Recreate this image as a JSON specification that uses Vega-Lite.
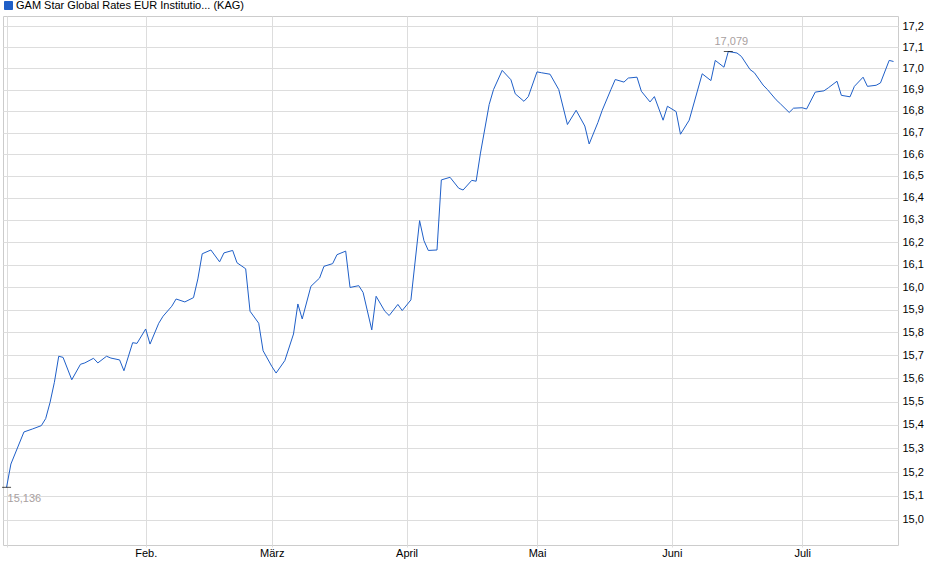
{
  "$schema": "https://vega.github.io/schema/vega-lite/v6.json",
  "width": 895,
  "height": 529,
  "autosize": "none",
  "padding": {"left": 3, "top": 16, "right": 42, "bottom": 34},
  "background": "white",
  "config": {
    "view": {"stroke": "#cccccc"},
    "locale": {"number": {"decimal": ",", "thousands": ".", "grouping": [3], "currency": ["", " €"]}},
    "axis": {
      "labelFont": "Liberation Sans",
      "labelFontSize": 11,
      "labelColor": "#000000",
      "gridColor": "#dddddd",
      "gridWidth": 1,
      "domain": false,
      "title": null
    },
    "legend": {"labelFont": "Liberation Sans"}
  },
  "data": {
    "values": [
      {"date": "2023-12-31", "value": 15.136},
      {"date": "2024-01-01", "value": 15.234},
      {"date": "2024-01-04", "value": 15.370},
      {"date": "2024-01-06", "value": 15.383},
      {"date": "2024-01-08", "value": 15.397},
      {"date": "2024-01-09", "value": 15.427},
      {"date": "2024-01-10", "value": 15.496},
      {"date": "2024-01-11", "value": 15.583},
      {"date": "2024-01-12", "value": 15.696},
      {"date": "2024-01-13", "value": 15.691},
      {"date": "2024-01-15", "value": 15.594},
      {"date": "2024-01-17", "value": 15.661},
      {"date": "2024-01-18", "value": 15.667},
      {"date": "2024-01-20", "value": 15.687},
      {"date": "2024-01-21", "value": 15.667},
      {"date": "2024-01-23", "value": 15.696},
      {"date": "2024-01-24", "value": 15.688},
      {"date": "2024-01-26", "value": 15.680},
      {"date": "2024-01-27", "value": 15.633},
      {"date": "2024-01-29", "value": 15.755},
      {"date": "2024-01-30", "value": 15.752},
      {"date": "2024-02-01", "value": 15.815},
      {"date": "2024-02-02", "value": 15.749},
      {"date": "2024-02-04", "value": 15.840},
      {"date": "2024-02-05", "value": 15.871},
      {"date": "2024-02-07", "value": 15.915},
      {"date": "2024-02-08", "value": 15.947},
      {"date": "2024-02-10", "value": 15.934},
      {"date": "2024-02-12", "value": 15.953},
      {"date": "2024-02-13", "value": 16.036},
      {"date": "2024-02-14", "value": 16.148},
      {"date": "2024-02-16", "value": 16.165},
      {"date": "2024-02-18", "value": 16.112},
      {"date": "2024-02-19", "value": 16.152},
      {"date": "2024-02-21", "value": 16.163},
      {"date": "2024-02-22", "value": 16.108},
      {"date": "2024-02-24", "value": 16.081},
      {"date": "2024-02-25", "value": 15.893},
      {"date": "2024-02-27", "value": 15.840},
      {"date": "2024-02-28", "value": 15.720},
      {"date": "2024-03-01", "value": 15.652},
      {"date": "2024-03-02", "value": 15.623},
      {"date": "2024-03-04", "value": 15.677},
      {"date": "2024-03-06", "value": 15.793},
      {"date": "2024-03-07", "value": 15.925},
      {"date": "2024-03-08", "value": 15.859},
      {"date": "2024-03-10", "value": 16.003},
      {"date": "2024-03-12", "value": 16.040},
      {"date": "2024-03-13", "value": 16.092},
      {"date": "2024-03-15", "value": 16.104},
      {"date": "2024-03-16", "value": 16.144},
      {"date": "2024-03-18", "value": 16.160},
      {"date": "2024-03-19", "value": 15.998},
      {"date": "2024-03-21", "value": 16.006},
      {"date": "2024-03-22", "value": 15.976},
      {"date": "2024-03-24", "value": 15.811},
      {"date": "2024-03-25", "value": 15.959},
      {"date": "2024-03-27", "value": 15.893},
      {"date": "2024-03-28", "value": 15.874},
      {"date": "2024-03-30", "value": 15.923},
      {"date": "2024-03-31", "value": 15.896},
      {"date": "2024-04-02", "value": 15.943},
      {"date": "2024-04-04", "value": 16.297},
      {"date": "2024-04-05", "value": 16.207},
      {"date": "2024-04-06", "value": 16.163},
      {"date": "2024-04-08", "value": 16.165},
      {"date": "2024-04-09", "value": 16.482},
      {"date": "2024-04-11", "value": 16.494},
      {"date": "2024-04-13", "value": 16.444},
      {"date": "2024-04-14", "value": 16.436},
      {"date": "2024-04-16", "value": 16.480},
      {"date": "2024-04-17", "value": 16.476},
      {"date": "2024-04-18", "value": 16.605},
      {"date": "2024-04-20", "value": 16.830},
      {"date": "2024-04-21", "value": 16.900},
      {"date": "2024-04-23", "value": 16.990},
      {"date": "2024-04-25", "value": 16.946},
      {"date": "2024-04-26", "value": 16.880},
      {"date": "2024-04-28", "value": 16.845},
      {"date": "2024-04-29", "value": 16.867},
      {"date": "2024-05-01", "value": 16.983},
      {"date": "2024-05-02", "value": 16.979},
      {"date": "2024-05-04", "value": 16.972},
      {"date": "2024-05-06", "value": 16.900},
      {"date": "2024-05-08", "value": 16.737},
      {"date": "2024-05-10", "value": 16.803},
      {"date": "2024-05-12", "value": 16.730},
      {"date": "2024-05-13", "value": 16.647},
      {"date": "2024-05-15", "value": 16.746},
      {"date": "2024-05-16", "value": 16.803},
      {"date": "2024-05-18", "value": 16.900},
      {"date": "2024-05-19", "value": 16.947},
      {"date": "2024-05-21", "value": 16.935},
      {"date": "2024-05-22", "value": 16.954},
      {"date": "2024-05-24", "value": 16.958},
      {"date": "2024-05-25", "value": 16.892},
      {"date": "2024-05-27", "value": 16.842},
      {"date": "2024-05-28", "value": 16.867},
      {"date": "2024-05-30", "value": 16.757},
      {"date": "2024-05-31", "value": 16.822},
      {"date": "2024-06-02", "value": 16.797},
      {"date": "2024-06-03", "value": 16.692},
      {"date": "2024-06-05", "value": 16.757},
      {"date": "2024-06-08", "value": 16.974},
      {"date": "2024-06-10", "value": 16.942},
      {"date": "2024-06-11", "value": 17.037},
      {"date": "2024-06-13", "value": 17.005},
      {"date": "2024-06-14", "value": 17.079},
      {"date": "2024-06-16", "value": 17.072},
      {"date": "2024-06-17", "value": 17.056},
      {"date": "2024-06-19", "value": 16.994},
      {"date": "2024-06-20", "value": 16.979},
      {"date": "2024-06-22", "value": 16.921},
      {"date": "2024-06-23", "value": 16.900},
      {"date": "2024-06-25", "value": 16.852},
      {"date": "2024-06-26", "value": 16.833},
      {"date": "2024-06-28", "value": 16.793},
      {"date": "2024-06-29", "value": 16.813},
      {"date": "2024-07-01", "value": 16.815},
      {"date": "2024-07-02", "value": 16.809},
      {"date": "2024-07-04", "value": 16.888},
      {"date": "2024-07-06", "value": 16.894},
      {"date": "2024-07-07", "value": 16.908},
      {"date": "2024-07-09", "value": 16.939},
      {"date": "2024-07-10", "value": 16.873},
      {"date": "2024-07-12", "value": 16.866},
      {"date": "2024-07-13", "value": 16.915},
      {"date": "2024-07-15", "value": 16.958},
      {"date": "2024-07-16", "value": 16.915},
      {"date": "2024-07-18", "value": 16.920},
      {"date": "2024-07-19", "value": 16.931},
      {"date": "2024-07-21", "value": 17.037},
      {"date": "2024-07-22", "value": 17.032}
    ]
  },
  "encoding": {
    "x": {
      "field": "date",
      "type": "temporal",
      "scale": {
        "type": "utc",
        "domain": [
          {"year": 2023, "month": 12, "date": 30, "hours": 4, "minutes": 23, "utc": true},
          {"year": 2024, "month": 7, "date": 23, "hours": 0, "minutes": 43, "utc": true}
        ]
      },
      "axis": {
        "orient": "bottom",
        "grid": true,
        "ticks": true,
        "tickSize": 2,
        "tickColor": "#dddddd",
        "labelPadding": 0,
        "labelAngle": 0,
        "labelAlign": "center",
        "labelBaseline": "top",
        "values": [
          {"year": 2023, "month": 12, "date": 31, "utc": true},
          {"year": 2024, "month": 2, "date": 1, "utc": true},
          {"year": 2024, "month": 3, "date": 1, "utc": true},
          {"year": 2024, "month": 4, "date": 1, "utc": true},
          {"year": 2024, "month": 5, "date": 1, "utc": true},
          {"year": 2024, "month": 6, "date": 1, "utc": true},
          {"year": 2024, "month": 7, "date": 1, "utc": true}
        ],
        "labelExpr": "utcmonth(datum.value) == 11 ? '' : ['Jan.', 'Feb.', 'März', 'April', 'Mai', 'Juni', 'Juli', 'Aug.', 'Sep.', 'Okt.', 'Nov.', 'Dez.'][utcmonth(datum.value)]"
      }
    },
    "y": {
      "field": "value",
      "type": "quantitative",
      "scale": {"type": "log", "domain": [14.896, 17.248], "nice": false, "zero": false},
      "axis": {
        "orient": "right",
        "grid": true,
        "ticks": false,
        "labelPadding": 4,
        "labelBaseline": "middle",
        "values": [15.0, 15.1, 15.2, 15.3, 15.4, 15.5, 15.6, 15.7, 15.8, 15.9, 16.0, 16.1, 16.2, 16.3, 16.4, 16.5, 16.6, 16.7, 16.8, 16.9, 17.0, 17.1, 17.2],
        "format": ".1f"
      }
    }
  },
  "layer": [
    {
      "mark": {"type": "line", "strokeWidth": 1, "interpolate": "linear"},
      "encoding": {
        "color": {
          "datum": "GAM Star Global Rates EUR Institutio... (KAG)",
          "scale": {"range": ["#1f5fc8"]},
          "legend": {
            "title": null,
            "orient": "none",
            "legendX": 0,
            "legendY": -16,
            "symbolType": "square",
            "symbolSize": 64,
            "labelFontSize": 11,
            "labelColor": "#000000",
            "labelLimit": 0,
            "labelOffset": 2,
            "padding": 0,
            "encode": {
              "symbols": {
                "update": {
                  "fill": {"value": "#1f5fc8"},
                  "stroke": {"value": "#1a2a60"},
                  "strokeWidth": {"value": 1},
                  "opacity": {"value": 1}
                }
              }
            }
          }
        }
      }
    },
    {
      "transform": [
        {"joinaggregate": [{"op": "min", "field": "value", "as": "vmin"}, {"op": "max", "field": "value", "as": "vmax"}]},
        {"filter": "datum.value == datum.vmin || datum.value == datum.vmax"}
      ],
      "mark": {"type": "tick", "orient": "horizontal", "size": 9, "thickness": 1, "color": "#000000"}
    },
    {
      "transform": [
        {"joinaggregate": [{"op": "min", "field": "value", "as": "vmin"}]},
        {"filter": "datum.value == datum.vmin"}
      ],
      "mark": {"type": "text", "align": "left", "baseline": "middle", "dx": 1, "dy": 12, "font": "Liberation Sans", "fontSize": 11, "color": "#a8a0a0"},
      "encoding": {"text": {"field": "value", "type": "quantitative", "format": ".3f"}}
    },
    {
      "transform": [
        {"joinaggregate": [{"op": "max", "field": "value", "as": "vmax"}]},
        {"filter": "datum.value == datum.vmax"}
      ],
      "mark": {"type": "text", "align": "center", "baseline": "middle", "dx": 3, "dy": -10, "font": "Liberation Sans", "fontSize": 11, "color": "#a8a0a0"},
      "encoding": {"text": {"field": "value", "type": "quantitative", "format": ".3f"}}
    }
  ]
}
